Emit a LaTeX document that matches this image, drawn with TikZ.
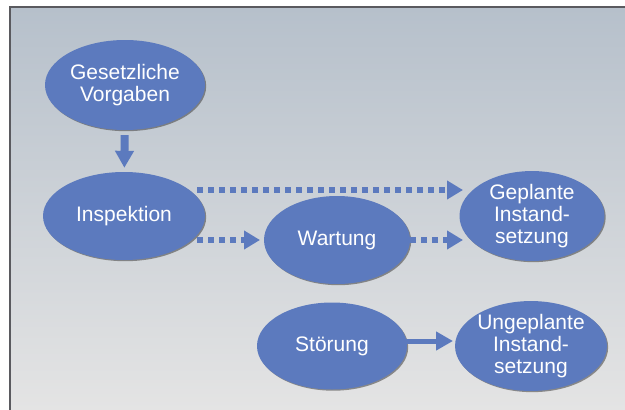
\documentclass[tikz,border=0pt]{standalone}
\usepackage{fontspec}
\setmainfont{Liberation Sans}
\usetikzlibrary{arrows.meta,shapes.geometric,shadows,calc}
\definecolor{nodeblue}{RGB}{92,122,190}
\definecolor{bgtop}{RGB}{182,192,203}
\definecolor{bgbot}{RGB}{228,228,228}
\definecolor{framegray}{RGB}{90,90,95}
\tikzset{
  proc/.style={ellipse, fill=nodeblue, text=white, inner sep=0pt, align=center,
    font=\fontsize{21}{22}\selectfont,
    drop shadow={shadow xshift=1.2pt, shadow yshift=-1.2pt, fill=black!70, opacity=0.6}},
  solidarrow/.style={draw=nodeblue, line width=6pt, -{Triangle[length=17pt,width=18pt]}},
  dotarrow/.style={draw=nodeblue, line width=6pt, dash pattern=on 6pt off 5pt,
    -{Triangle[length=16pt,width=18pt]}}
}
\begin{document}
\begin{tikzpicture}[x=1pt,y=-1pt]
\useasboundingbox (0,0) rectangle (625,410);
\shade[top color=bgtop, bottom color=bgbot] (10,7) rectangle (625,410);
\draw[framegray, line width=2pt] (10,410) -- (10,7) -- (625,7);

\node[proc, minimum width=160pt, minimum height=90pt] (ges) at (125,85) {Gesetzliche\\Vorgaben};
\node[proc, minimum width=162pt, minimum height=88pt] (insp) at (124,216) {Inspektion};
\node[proc, minimum width=146pt, minimum height=88pt] (wart) at (337,240) {Wartung};
\node[proc, minimum width=145pt, minimum height=86pt] (gepl) at (532,216) {Geplante\\Instand-\\setzung};
\node[proc, minimum width=150pt, minimum height=87pt] (stoer) at (332,346) {Störung};
\node[proc, minimum width=145pt, minimum height=88pt] (unge) at (531,346) {Ungeplante\\Instand-\\setzung};

\draw[solidarrow, line width=8pt, shorten <=5pt, shorten >=4pt] (ges) -- (insp);
\draw[dotarrow] ($(insp.center)+(73,-26)$) -- ($(gepl.center)+(-69,-26)$);
\draw[dotarrow] ($(insp.center)+(73,24)$) -- ($(wart.center)+(-77,0)$);
\draw[dotarrow] ($(wart.center)+(73,0)$) -- ($(gepl.center)+(-69,24)$);
\draw[solidarrow, line width=5pt] ($(stoer.center)+(74,-5)$) -- ($(unge.center)+(-78,-5)$);
\end{tikzpicture}
\end{document}
